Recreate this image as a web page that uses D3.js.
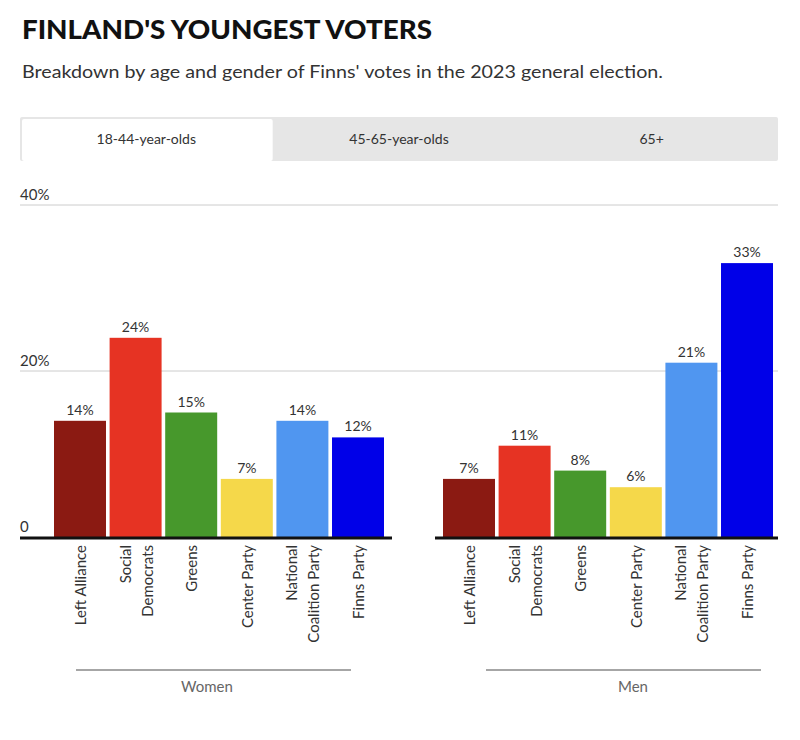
<!DOCTYPE html>
<html><head><meta charset="utf-8">
<script src="https://cdn.jsdelivr.net/npm/d3@7"></script>
<style>
body{margin:0;background:#fff;}
svg{display:block;font-family:Lato,"Open Sans",sans-serif;}
</style></head>
<body><svg id="chart" width="800" height="740"></svg>
<script>
const parties = ["Left Alliance","Social Democrats","Greens","Center Party","National Coalition Party","Finns Party"];
const partyLines = [["Left Alliance"],["Social","Democrats"],["Greens"],["Center Party"],["National","Coalition Party"],["Finns Party"]];
const partyColors = ["#8b1a12","#e63323","#47982c","#f5d84a","#5096f0","#0000e8"];
const women = [14,24,15,7,14,12];
const men = [7,11,8,6,21,33];
const groups = ["Women","Men"];
const tabs = ["18-44-year-olds","45-65-year-olds","65+"];
const yTicks = [0,20,40];

const svg = d3.select("#chart");
svg.append("text").attr("x",22).attr("y",39).text("FINLAND'S YOUNGEST VOTERS")
  .attr("font-size",26).attr("font-weight",900).attr("fill","#111")
  .attr("textLength",410).attr("lengthAdjust","spacingAndGlyphs");
svg.append("text").attr("x",22).attr("y",78).text("Breakdown by age and gender of Finns' votes in the 2023 general election.")
  .attr("font-size",18).attr("fill","#333")
  .attr("textLength",641).attr("lengthAdjust","spacingAndGlyphs");

// tabs
svg.append("rect").attr("x",20).attr("y",117).attr("width",758).attr("height",44).attr("fill","#e6e6e6").attr("rx",2);
const tabX = d3.scaleBand().domain(tabs).range([20,778]);
svg.append("rect").attr("x",tabX(tabs[0])+2).attr("y",119).attr("width",tabX.bandwidth()-2).attr("height",42).attr("fill","#fff").attr("rx",2);
svg.selectAll(".tab").data(tabs).join("text")
  .attr("x",d=>tabX(d)+tabX.bandwidth()/2).attr("y",144).attr("text-anchor","middle")
  .attr("font-size",14).attr("fill","#333").text(d=>d);

const y = d3.scaleLinear().domain([0,40]).range([537,205]);
// gridlines
yTicks.forEach(t=>{
  if(t>0) svg.append("line").attr("x1",20).attr("x2",778).attr("y1",y(t)).attr("y2",y(t)).attr("stroke","#ccc").attr("stroke-width",1);
  svg.append("text").attr("x",20).attr("y",y(t)-5).attr("font-size",15).attr("fill","#333").text(t===0?"0":t+"%");
});

const panels = [
  {name:groups[0], vals:women, range:[54,384], base:[20,392], line:[76,351], label:207},
  {name:groups[1], vals:men, range:[443,773], base:[435,778], line:[486,761], label:633}
];
panels.forEach(p=>{
  const x = d3.scaleBand().domain(parties).range(p.range).paddingInner(0.065).paddingOuter(0);
  const g = svg.append("g");
  g.selectAll("rect").data(parties).join("rect")
    .attr("x",d=>x(d)).attr("width",x.bandwidth())
    .attr("y",(d,i)=>y(p.vals[i])).attr("height",(d,i)=>y(0)-y(p.vals[i]))
    .attr("fill",(d,i)=>partyColors[i]);
  g.selectAll(".val").data(parties).join("text")
    .attr("x",d=>x(d)+x.bandwidth()/2).attr("y",(d,i)=>y(p.vals[i])-6)
    .attr("text-anchor","middle").attr("font-size",14).attr("fill","#333")
    .text((d,i)=>p.vals[i]+"%");
  g.append("line").attr("x1",p.base[0]).attr("x2",p.base[1]).attr("y1",y(0)+1).attr("y2",y(0)+1)
    .attr("stroke","#111").attr("stroke-width",3);
  parties.forEach((d,i)=>{
    const lines = partyLines[i];
    const cx = x(d)+x.bandwidth()/2;
    lines.forEach((ln,j)=>{
      const off = (j-(lines.length-1)/2)*22;
      const tx = cx+off+6;
      g.append("text").attr("transform",`translate(${tx},${545}) rotate(-90)`)
        .attr("text-anchor","end").attr("font-size",15).attr("fill","#333").text(ln);
    });
  });
  g.append("line").attr("x1",p.line[0]).attr("x2",p.line[1]).attr("y1",670).attr("y2",670)
    .attr("stroke","#888").attr("stroke-width",1.5);
  g.append("text").attr("x",p.label).attr("y",692).attr("text-anchor","middle")
    .attr("font-size",15).attr("fill","#666").text(p.name);
});
</script></body></html>
